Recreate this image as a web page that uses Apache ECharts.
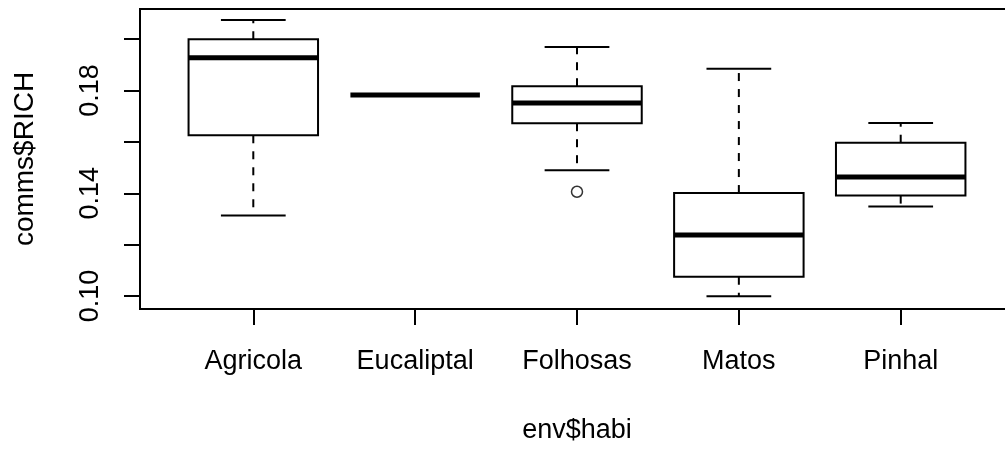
<!DOCTYPE html>
<html>
<head>
<meta charset="utf-8">
<script src="https://cdn.jsdelivr.net/npm/echarts@6/dist/echarts.min.js"></script>
<style>
  html, body { margin: 0; padding: 0; background: #fff; }
  #chart { width: 1005px; height: 451px; }
</style>
</head>
<body>
<div id="chart"></div>
<script>
// Habitat categories and box statistics
const habitats = ['Agricola', 'Eucaliptal', 'Folhosas', 'Matos', 'Pinhal'];
const lowerWhisker = [0.1314, 0.1783, 0.1490, 0.0999, 0.1349];
const lowerHinge = [0.1626, 0.1783, 0.1673, 0.1075, 0.1391];
const medians = [0.1928, 0.1783, 0.1752, 0.1238, 0.1463];
const upperHinge = [0.2000, 0.1783, 0.1817, 0.1401, 0.1597];
const upperWhisker = [0.2075, 0.1783, 0.1970, 0.1885, 0.1674];
// outliers: [habitat index (1-based), value]
const outliers = [[3, 0.1406]];

const yTicks = [0.10, 0.12, 0.14, 0.16, 0.18, 0.20];
const yLabels = [0.10, 0.14, 0.18];
const xTicks = [1, 2, 3, 4, 5];

const FONT = 'Liberation Sans, Arial, sans-serif';
const FS = 27;

const boxData = habitats.map((h, i) => [
  i + 1, lowerWhisker[i], lowerHinge[i], medians[i], upperHinge[i], upperWhisker[i]
]);

function renderBox(params, api) {
  const x = api.value(0);
  const lo = api.coord([x, api.value(1)]);
  const q1 = api.coord([x, api.value(2)]);
  const med = api.coord([x, api.value(3)]);
  const q3 = api.coord([x, api.value(4)]);
  const hi = api.coord([x, api.value(5)]);
  const halfW = api.size([0.8, 0])[0] / 2;
  const capW = halfW / 2;
  const cx = med[0];
  const solid = { stroke: '#000', lineWidth: 2, fill: null };
  const dashed = { stroke: '#000', lineWidth: 2, lineDash: [8, 8], fill: null };
  const children = [];
  if (hi[1] < q3[1]) {
    children.push({ type: 'line', shape: { x1: cx, y1: q3[1], x2: cx, y2: hi[1] }, style: dashed });
    children.push({ type: 'line', shape: { x1: cx - capW, y1: hi[1], x2: cx + capW, y2: hi[1] }, style: solid });
  }
  if (lo[1] > q1[1]) {
    children.push({ type: 'line', shape: { x1: cx, y1: q1[1], x2: cx, y2: lo[1] }, style: dashed });
    children.push({ type: 'line', shape: { x1: cx - capW, y1: lo[1], x2: cx + capW, y2: lo[1] }, style: solid });
  }
  if (q1[1] - q3[1] > 0.5) {
    children.push({
      type: 'rect',
      shape: { x: cx - halfW, y: q3[1], width: halfW * 2, height: q1[1] - q3[1] },
      style: { stroke: '#000', lineWidth: 2, fill: '#fff' }
    });
  }
  children.push({
    type: 'line',
    shape: { x1: cx - halfW, y1: med[1], x2: cx + halfW, y2: med[1] },
    style: { stroke: '#000', lineWidth: 5 }
  });
  return { type: 'group', children };
}

const chart = echarts.init(document.getElementById('chart'));
chart.setOption({
  animation: false,
  backgroundColor: '#fff',
  grid: {
    left: 140,
    top: 9,
    width: 874,
    height: 300,
    outerBoundsMode: 'none',
    containLabel: false,
    show: true,
    borderColor: '#000',
    borderWidth: 2,
    backgroundColor: 'transparent'
  },
  xAxis: {
    type: 'value',
    min: 0.3,
    max: 5.7,
    name: 'env$habi',
    nameLocation: 'middle',
    nameGap: 108,
    nameTextStyle: { fontFamily: FONT, fontSize: FS, color: '#000' },
    axisLine: { show: true, lineStyle: { color: '#000', width: 2 } },
    axisTick: { show: true, length: 16, lineStyle: { color: '#000', width: 2 }, customValues: xTicks },
    axisLabel: {
      show: true,
      margin: 39,
      fontFamily: FONT,
      fontSize: FS,
      color: '#000',
      customValues: xTicks,
      formatter: (v) => habitats[Math.round(v) - 1] || ''
    },
    splitLine: { show: false }
  },
  yAxis: {
    type: 'value',
    min: 0.094937,
    max: 0.21178,
    name: 'comms$RICH',
    nameLocation: 'middle',
    nameGap: 101,
    nameTextStyle: { fontFamily: FONT, fontSize: 28, color: '#000' },
    axisLine: { show: true, lineStyle: { color: '#000', width: 2 } },
    axisTick: { show: true, length: 16, lineStyle: { color: '#000', width: 2 }, customValues: yTicks },
    axisLabel: {
      show: true,
      rotate: 90,
      margin: 36,
      fontFamily: FONT,
      fontSize: FS,
      color: '#000',
      customValues: yLabels,
      formatter: (v) => v.toFixed(2)
    },
    splitLine: { show: false }
  },
  series: [
    {
      type: 'custom',
      renderItem: renderBox,
      encode: { x: 0, y: [1, 2, 3, 4, 5] },
      data: boxData
    },
    {
      type: 'scatter',
      symbol: 'circle',
      symbolSize: 11,
      itemStyle: { color: '#fff', borderColor: '#000', borderWidth: 1.5 },
      data: outliers
    }
  ]
});
</script>
</body>
</html>
